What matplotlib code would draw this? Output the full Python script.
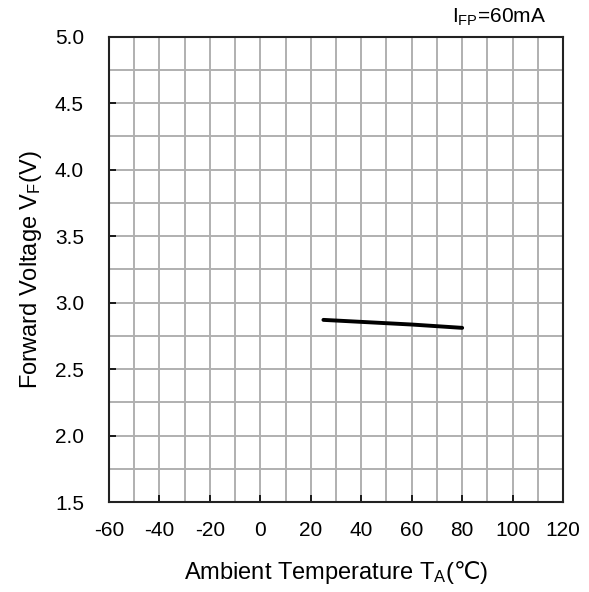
import matplotlib
matplotlib.use("Agg")
from matplotlib import pyplot as plt
from matplotlib.ticker import MultipleLocator

# data
temps = [25, 40, 60, 80]
vf = [2.87, 2.855, 2.835, 2.81]

x_ticks = [-60, -40, -20, 0, 20, 40, 60, 80, 100, 120]
y_ticks = [1.5, 2.0, 2.5, 3.0, 3.5, 4.0, 4.5, 5.0]

plt.rcParams['font.family'] = ['Liberation Sans', 'DejaVu Sans']
plt.rcParams['mathtext.fontset'] = 'custom'
plt.rcParams['mathtext.rm'] = 'Liberation Sans'
plt.rcParams['mathtext.it'] = 'Liberation Sans'
plt.rcParams['mathtext.sf'] = 'DejaVu Sans'
plt.rcParams['axes.unicode_minus'] = False

fig = plt.figure(figsize=(5.89, 5.92), dpi=100)
ax = fig.add_axes([0.185, 0.152, 0.771, 0.786])

ax.plot(temps, vf, color='black', linewidth=2.8, solid_capstyle='round', zorder=3)

ax.set_xlim(-60, 120)
ax.set_ylim(1.5, 5.0)
ax.set_xticks(x_ticks)
ax.set_yticks(y_ticks)
ax.set_yticklabels([f"{v:.1f}" for v in y_ticks])
ax.xaxis.set_minor_locator(MultipleLocator(10))
ax.yaxis.set_minor_locator(MultipleLocator(0.25))

ax.grid(which='both', color='#b0b0b0', linewidth=1.4, zorder=0)
ax.set_axisbelow(True)
ax.tick_params(which='major', direction='in', length=5, width=1.2, labelsize=15)
ax.tick_params(axis='x', which='major', pad=14)
ax.tick_params(axis='y', which='major', pad=18)
ax.tick_params(which='minor', length=0)
for s in ax.spines.values():
    s.set_linewidth(1.5)
    s.set_color('#222222')

ax.set_xlabel('Ambient Temperature T$_\\mathregular{A}$($\\mathsf{\u2103}$)', fontsize=17, labelpad=13)
ax.set_ylabel('Forward Voltage V$_\\mathregular{F}$(V)', fontsize=17, labelpad=8)

fig.text(0.927, 0.97, 'I$_\\mathregular{FP}$=60mA', fontsize=15, ha='right', va='center')

plt.savefig('out.png', dpi=100)
